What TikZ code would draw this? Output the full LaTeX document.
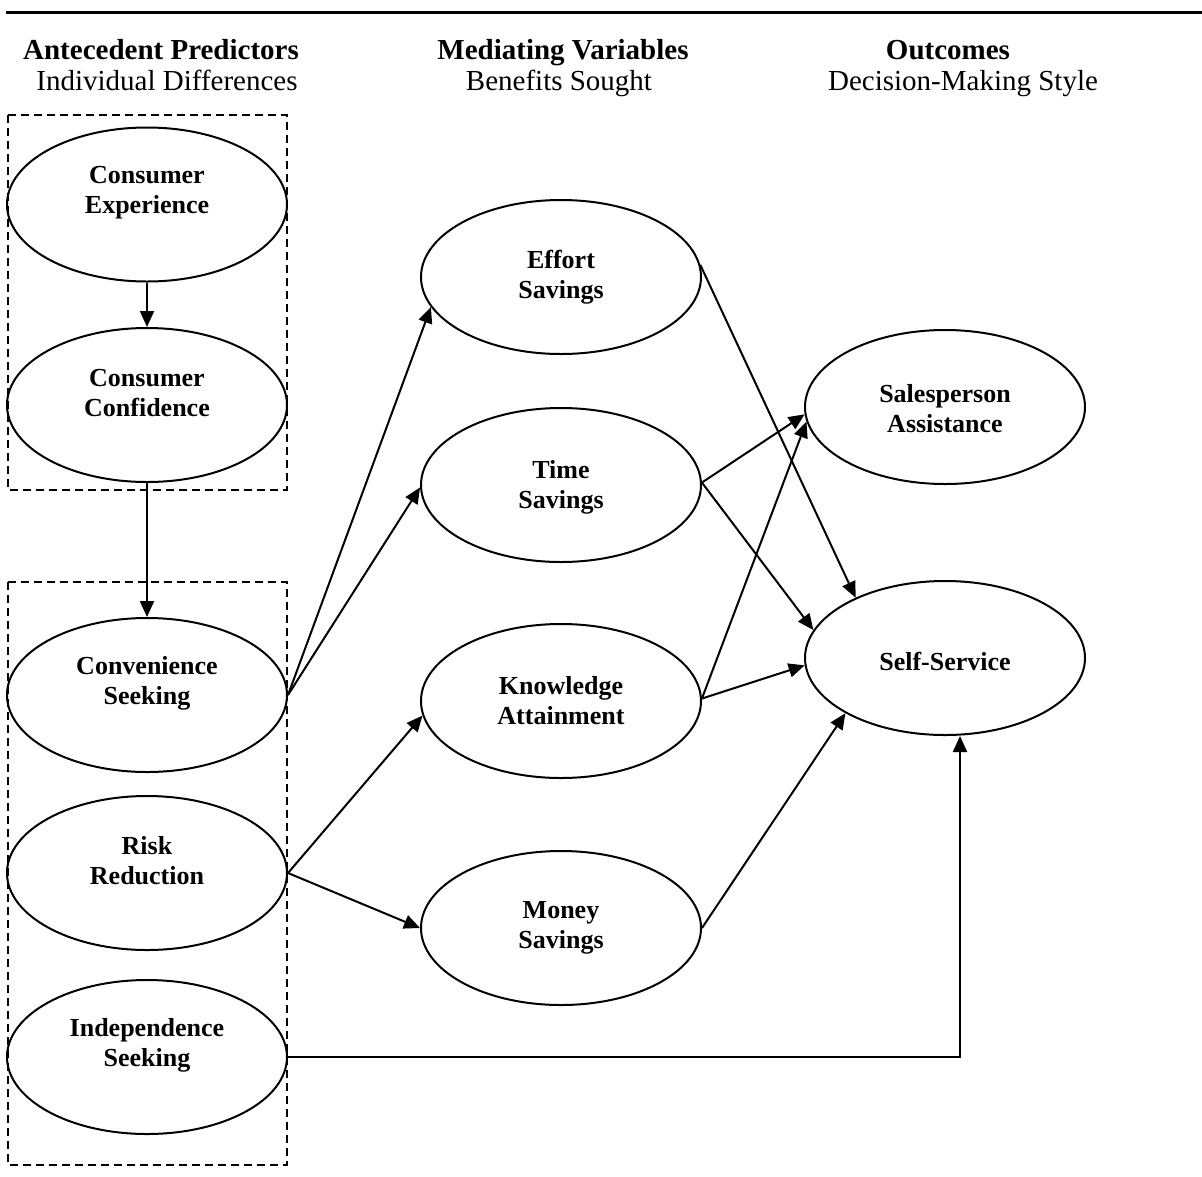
\documentclass[tikz,border=0pt]{standalone}
\usepackage{fontspec}
\setmainfont{Liberation Serif}
\usetikzlibrary{arrows.meta,shapes.geometric}
\begin{document}
\begin{tikzpicture}[x=1pt,y=-1pt,
  ell/.style={ellipse,draw,line width=2pt,minimum width=280pt,minimum height=154pt,inner sep=0pt},
  lab/.style={align=center,font=\fontsize{26}{30}\selectfont\bfseries,inner sep=0pt},
  hdb/.style={anchor=base,font=\fontsize{29}{33}\selectfont\bfseries,inner sep=0pt},
  hdr/.style={anchor=base,font=\fontsize{29}{33}\selectfont,inner sep=0pt},
  conn/.style={line width=2pt,-{Triangle[length=16pt,width=14pt]}},
  grp/.style={draw,line width=2pt,dash pattern=on 8pt off 5pt}]
\useasboundingbox (0,0) rectangle (1202,1176);
% top rule
\draw[line width=2.4pt] (6,12.5) -- (1202,12.5);
% headers
\node[hdb] (h1a) at (161,59) {Antecedent Predictors};
\node[hdr] (h1b) at (167,90) {Individual Differences};
\node[hdb] (h2a) at (563,59) {Mediating Variables};
\node[hdr] (h2b) at (559,90) {Benefits Sought};
\node[hdb] (h3a) at (948,59) {Outcomes};
\node[hdr] (h3b) at (963,90) {Decision-Making Style};
% group boxes
\draw[grp] (8,115) rectangle (287,490);
\draw[grp] (8,582) rectangle (287,1165);
% left column
\node[ell] (ce) at (147,204.5) {};
\node[lab] (ceT) at ([yshift=12pt]ce.center) {Consumer\\Experience};
\node[ell] (cc) at (147,405) {};
\node[lab] (ccT) at ([yshift=12pt]cc.center) {Consumer\\Confidence};
\node[ell] (cs) at (147,695) {};
\node[lab] (csT) at ([yshift=12pt]cs.center) {Convenience\\Seeking};
\node[ell] (rr) at (147,873) {};
\node[lab] (rrT) at ([yshift=12pt]rr.center) {Risk\\Reduction};
\node[ell] (is) at (147,1057) {};
\node[lab] (isT) at ([yshift=12pt]is.center) {Independence\\Seeking};
% middle column
\node[ell] (eff) at (561,277) {};
\node[lab] (effT) at (eff.center) {Effort\\Savings};
\node[ell] (tim) at (561,485) {};
\node[lab] (timT) at ([yshift=-2pt]tim.center) {Time\\Savings};
\node[ell] (kno) at (561,701) {};
\node[lab] (knoT) at (kno.center) {Knowledge\\Attainment};
\node[ell] (mon) at (561,928) {};
\node[lab] (monT) at (mon.center) {Money\\Savings};
% right column
\node[ell] (sa) at (945,407) {};
\node[lab] (saT) at ([yshift=-2pt]sa.center) {Salesperson\\Assistance};
\node[ell] (ss) at (945,658) {};
\node[lab] (ssT) at ([yshift=-3pt]ss.center) {Self-Service};
% connectors
\draw[conn] (ce.south) -- (cc.north);
\draw[conn] (cc.south) -- (cs.north);
\draw[conn] (cs.east) -- (eff.193);
\draw[conn] (cs.east) -- (tim.181);
\draw[conn] (rr.east) -- (kno.186);
\draw[conn] (rr.east) -- (mon.west);
\draw[conn] (eff.5) -- (ss.146);
\draw[conn] (tim.1) -- (sa.183);
\draw[conn] (tim.1) -- (ss.168);
\draw[conn] (kno.1) -- (sa.186);
\draw[conn] (kno.1) -- (ss.183);
\draw[conn] (mon.east) -- (ss.209);
\draw[conn] (is.east) -| ([xshift=15pt]ss.south);
\end{tikzpicture}
\end{document}
